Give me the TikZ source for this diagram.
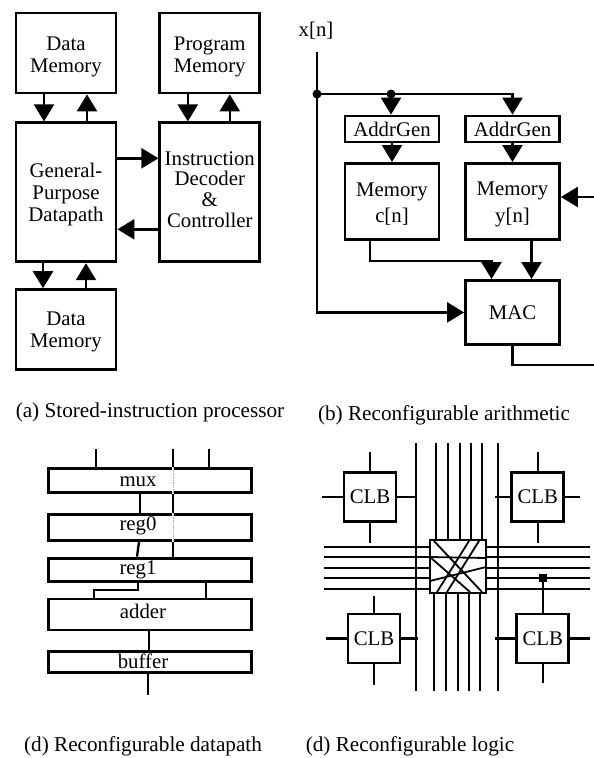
\documentclass[tikz,border=0pt]{standalone}
\usepackage{fontspec}
\setmainfont{Liberation Serif}
\usetikzlibrary{positioning,calc,arrows.meta}
\newcommand{\figfont}{\fontsize{20.8}{20.7}\selectfont}
\newcommand{\capfont}{\fontsize{21.2}{21.2}\selectfont}
\newcommand{\dropline}[1]{\rule{0pt}{#1}}
\newcommand{\liftline}[1]{\rule[-#1]{0pt}{#1}}
\tikzset{
  blockbox/.style={draw=black, line width=2.8pt, align=center, fill=white,
                   inner sep=0pt, font=\figfont},
  membox/.style={blockbox, minimum width=100pt, minimum height=80pt},
  tallbox/.style={blockbox, minimum width=100pt, minimum height=139pt},
  genbox/.style={blockbox, minimum width=94pt, minimum height=26pt},
  ramsbox/.style={blockbox, minimum width=94pt, minimum height=76pt},
  slicebox/.style={blockbox, minimum width=203pt},
  clbbox/.style={blockbox, minimum width=52pt, minimum height=49pt},
  flow/.style={-{Triangle[length=17pt,width=20pt]}, line width=2.4pt, draw=black},
  wire/.style={line width=2.3pt, draw=black},
  bus/.style={line width=2.5pt, draw=black},
  thin wire/.style={line width=1.8pt, draw=black},
  ghost/.style={line width=1.8pt, draw=white, postaction={draw=black!35, line width=0.8pt, densely dotted, draw}},
  lbl/.style={font=\figfont, inner sep=0pt},
  capt/.style={font=\capfont, inner sep=0pt},
}
\begin{document}
\begin{tikzpicture}[x=1pt,y=-1pt]
  \useasboundingbox (0,0) rectangle (594,758);
  % ---------------------------------------------------------- stored-instruction processor
  \node[membox] (dmtop) at (66,53) {\dropline{21pt}Data\\[1pt] Memory};
  \node[tallbox, below=27pt of dmtop] (gpd) {\dropline{18pt}General-\\[1.3pt] Purpose\\[1.3pt] Datapath};
  \node[membox, below=25pt of gpd] (dmbot) {\dropline{18pt}Data\\[1pt] Memory};
  \node[membox, right=41pt of dmtop] (pm) {\dropline{21pt}Program\\[1pt] Memory};
  \node[tallbox, below=27pt of pm] (idc) {Instruction\\ Decoder\\ \&\\ Controller\liftline{6pt}};

  \draw[flow] ($(dmtop.south)+(-22,0)$) -- ($(gpd.north)+(-22,0)$);
  \draw[flow] ($(gpd.north)+(21,0)$) -- ($(dmtop.south)+(21,0)$);
  \draw[flow] ($(pm.south)+(-22,0)$) -- ($(idc.north)+(-22,0)$);
  \draw[flow] ($(idc.north)+(20,0)$) -- ($(pm.south)+(20,0)$);
  \draw[flow] ($(gpd.east)+(0,-34)$) -- ($(idc.west)+(0,-34)$);
  \draw[flow] ($(idc.west)+(0,37)$) -- ($(gpd.east)+(0,37)$);
  \draw[flow] ($(gpd.south)+(-23,0)$) -- ($(dmbot.north)+(-23,0)$);
  \draw[flow] ($(dmbot.north)+(20,0)$) -- ($(gpd.south)+(20,0)$);

  \node[capt] (capa) at (150,412) {(a) Stored-instruction processor};

  % ---------------------------------------------------------- reconfigurable arithmetic
  \node[lbl] (xn) at (316,31) {x[n]};
  \coordinate (xtop) at (317,52);
  \coordinate (xdot) at (317,94);
  \node[genbox] (agc) at (392,129) {AddrGen};
  \node[genbox, right=23.7pt of agc] (agy) {AddrGen};
  \node[ramsbox, below=18.6pt of agc] (memc) {\dropline{19pt}Memory\\[6pt] c[n]};
  \node[ramsbox, below=18.6pt of agy] (memy) {\dropline{19pt}Memory\\[6pt] y[n]};
  \node[blockbox, minimum width=94pt, minimum height=64pt, below=38.2pt of memy] (mac) {MAC};
  \coordinate (cdot) at (391,94);
  \coordinate (fbout) at (594,365);
  \coordinate (fbin) at (594,197);

  \fill (xdot) circle (4.5pt);
  \fill (cdot) circle (4.5pt);
  \draw[bus] (xtop) -- (xdot);
  \draw[flow] (xdot) |- (mac.west);
  \draw[flow] (xdot) -| (agy.north);
  \draw[flow] (cdot) -- (cdot |- agc.north);
  \draw[flow] (agc) -- (memc);
  \draw[flow] (agy) -- (memy);
  \draw[flow] ($(memc.south)+(-22,0)$) -- ++(0,20) -| ($(mac.north)+(-21,0)$);
  \draw[flow] ($(memy.south)+(19,0)$) -- ($(mac.north)+(19,0)$);
  \draw[bus] (mac.south) |- (fbout);
  \draw[flow] (fbin) -- (fbin -| memy.east);

  \node[capt] (capb) at (444,415) {(b) Reconfigurable arithmetic};

  % ---------------------------------------------------------- reconfigurable datapath
  \node[slicebox, minimum height=24pt, label={[lbl, xshift=-12pt, yshift=-1pt]center:mux}] (mux) at (150,480.5) {};
  \node[slicebox, minimum height=26pt, below=19pt of mux, label={[lbl, xshift=-12pt, yshift=1pt]center:reg0}] (rega) {};
  \node[slicebox, minimum height=23pt, below=15pt of rega, label={[lbl, xshift=-12pt]center:reg1}] (regb) {};
  \node[slicebox, minimum height=31pt, below=15pt of regb, label={[lbl, xshift=-7pt, yshift=3pt]center:adder}] (addr) {};
  \node[slicebox, minimum height=21pt, below=19pt of addr, label={[lbl, xshift=-7pt, yshift=1pt]center:buffer}] (bufr) {};
  \coordinate (ina) at (96,449);
  \coordinate (inb) at (173,449);
  \coordinate (inc) at (209,449);
  \coordinate (bend) at (138,590);
  \coordinate (outb) at (148,695);

  \draw[wire] (ina) -- (ina |- mux.north);
  \draw[wire] (inb) -- (inb |- mux.north);
  \draw[wire] (inc) -- (inc |- mux.north);
  \draw[ghost] (inb |- mux.north) -- (inb |- mux.south);
  \draw[ghost] (inb |- rega.north) -- (inb |- rega.south);
  \draw[wire] (140,0 |- mux.south) -- (140,0 |- rega.north);
  \draw[wire] (inb |- mux.south) -- (inb |- rega.north);
  \draw[wire] (139,0 |- rega.south) -- (137,0 |- regb.north);
  \draw[wire] (inb |- rega.south) -- (inb |- regb.north);
  \draw[wire] (bend |- regb.south) -- (bend) -- (94,590) -- (94,0 |- addr.north);
  \draw[wire] (206,0 |- regb.south) -- (206,0 |- addr.north);
  \draw[wire] (149,0 |- addr.south) -- (149,0 |- bufr.north);
  \draw[wire] (outb |- bufr.south) -- (outb);

  \node[capt] (capc) at (143,746) {(d) Reconfigurable datapath};

  % ---------------------------------------------------------- reconfigurable logic
  \node[clbbox] (clbtl) at (370,497) {CLB};
  \node[clbbox, right=113pt of clbtl] (clbtr) {CLB};
  \node[clbbox, below=89.7pt of clbtl, xshift=4pt] (clbbl) {CLB};
  \node[clbbox, right=114pt of clbbl] (clbbr) {CLB};
  \node[draw=black, line width=2.4pt, fill=white, minimum width=55.6pt, minimum height=52.6pt] (sw) at (458,566.5) {};

  % the wires, on five tracks each way
  \foreach \yy in {547,557,568,578,589} {
    \draw[thin wire] (324,\yy) -- (sw.west |- 0,\yy);
    \draw[thin wire] (sw.east |- 0,\yy) -- (590,\yy);
  }
  \foreach \xx/\xb in {436/434,448/446,460/458,471/469,482/480} {
    \draw[thin wire] (\xx,443) -- (\xx,0 |- sw.north);
    \draw[thin wire] (\xb,0 |- sw.south) -- (\xb,691);
  }
  \draw[bus] (416,443) -- (416,691);
  \draw[bus] (498,443) -- (498,691);

  % crossings inside the switch box
  \draw[thin wire] (434,541) -- (482,592);
  \draw[thin wire] (430,557) -- (470,592);
  \draw[thin wire] (430,557) -- (486,558);
  \draw[thin wire] (430,581) -- (486,567);
  \draw[thin wire] (469,541) -- (437,592);
  \draw[thin wire] (479,541) -- (447,592);

  % the stubs of each block
  \draw[wire] (clbtl.north) -- ++(0,-19);
  \draw[wire] (clbtl.south) -- ++(0,20);
  \draw[wire] (clbtl.west) -- ++(-21,0);
  \draw[wire] (clbtl.east) -- (clbtl.east -| 416,0);
  \draw[wire] (clbtr.north) -- ++(0,-19);
  \draw[wire] (clbtr.south) -- ++(0,20);
  \draw[wire] (clbtr.west) -- (clbtr.west -| 495,0);
  \draw[wire] (clbtr.east) -- ++(15,0);
  \draw[wire] (clbbl.north) -- ++(0,-17);
  \draw[wire] (clbbl.south) -- ++(0,21);
  \draw[wire] (clbbl.west) -- ++(-21,0);
  \draw[wire] (clbbl.east) -- (clbbl.east -| 418,0);
  \coordinate (tap) at (clbbr.north |- 0,578);
  \fill (tap) ++(-4,-4) rectangle ++(8,8);
  \draw[wire] (clbbr.north) -- (tap);
  \draw[wire] (clbbr.south) -- ++(0,19);
  \draw[wire] (clbbr.west) -- (clbbr.west -| 495,0);
  \draw[wire] (clbbr.east) -- ++(20,0);

  \node[capt] (capd) at (410,746) {(d) Reconfigurable logic};
\end{tikzpicture}
\end{document}
